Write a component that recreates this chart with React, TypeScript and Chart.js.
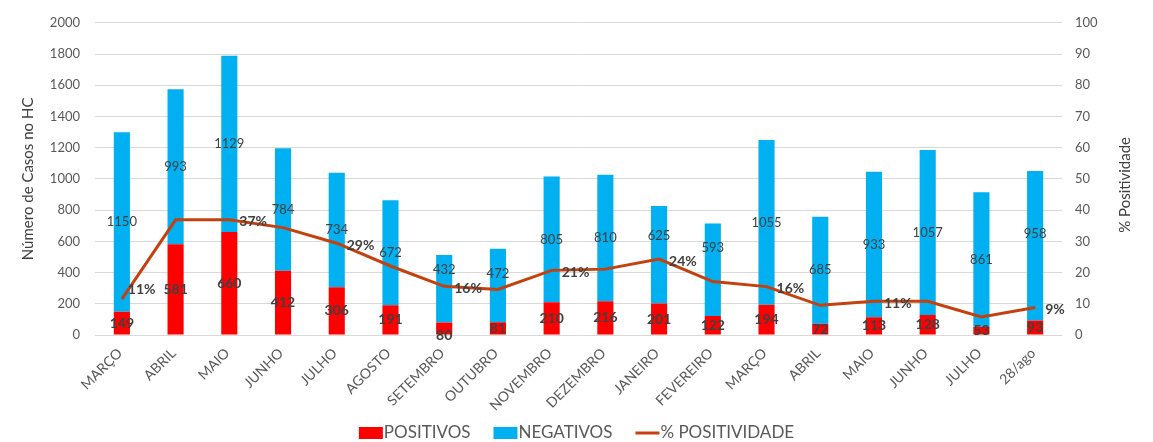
import React, { useEffect, useRef } from "react";
import { Chart, registerables } from "chart.js";

Chart.register(...registerables);

const categories = [
  "MARÇO", "ABRIL", "MAIO", "JUNHO", "JULHO", "AGOSTO", "SETEMBRO", "OUTUBRO",
  "NOVEMBRO", "DEZEMBRO", "JANEIRO", "FEVEREIRO", "MARÇO", "ABRIL", "MAIO",
  "JUNHO", "JULHO", "28/ago",
];
const positivos = [149, 581, 660, 412, 306, 191, 80, 81, 210, 216, 201, 122, 194, 72, 113, 128, 53, 93];
const negativos = [1150, 993, 1129, 784, 734, 672, 432, 472, 805, 810, 625, 593, 1055, 685, 933, 1057, 861, 958];
const positividade = [11.5, 36.9, 36.9, 34.4, 29.4, 22.1, 15.6, 14.6, 20.7, 21.1, 24.3, 17.1, 15.5, 9.5, 10.8, 10.8, 5.8, 8.8];
const positividadeLabels = ["11%", "", "37%", "", "29%", "", "16%", "", "21%", "", "24%", "", "16%", "", "11%", "", "", "9%"];
const leftTitle = "Número de Casos no HC";
const rightTitle = "% Positividade";

const FONT = "Lato, 'Open Sans', sans-serif";
const TICK_COLOR = "#595959";
const LABEL_COLOR = "#404040";
const RED = "#FF0000";
const BLUE = "#00B0F0";
const LINE = "#C4410F";

// label nudges (pixels) copied from the manually moved labels of the original
const negShift: Record<number, number> = { 6: -19, 7: -12, 10: -19, 11: -22, 17: -12 };
const posShift: Record<number, number> = { 6: 7 };

export default function App() {
  const canvasRef = useRef<HTMLCanvasElement | null>(null);

  useEffect(() => {
    document.body.style.margin = "0";
    const canvas = canvasRef.current;
    if (!canvas) return;

    const labelsPlugin = {
      id: "valueLabels",
      afterDatasetsDraw(chart: any) {
        const ctx = chart.ctx;
        ctx.save();
        // bar labels
        [0, 1].forEach((di) => {
          const meta = chart.getDatasetMeta(di);
          const values = di === 0 ? positivos : negativos;
          const shift = di === 0 ? posShift : negShift;
          ctx.font = di === 0 ? `bold 14px ${FONT}` : `13px ${FONT}`;
          ctx.fillStyle = LABEL_COLOR;
          ctx.textAlign = "center";
          ctx.textBaseline = "middle";
          meta.data.forEach((el: any, i: number) => {
            const cy = (el.y + el.base) / 2 + (shift[i] || 0);
            ctx.fillText(String(values[i]), el.x, cy);
          });
        });
        // line labels
        const lm = chart.getDatasetMeta(2);
        ctx.font = `bold 14px ${FONT}`;
        ctx.fillStyle = LABEL_COLOR;
        ctx.textAlign = "left";
        ctx.textBaseline = "middle";
        lm.data.forEach((el: any, i: number) => {
          const t = positividadeLabels[i];
          if (!t) return;
          const dy = i === 0 ? -10 : 2;
          const dx = i === 0 ? 6 : 10;
          ctx.fillText(t, el.x + dx, el.y + dy);
        });
        ctx.restore();

        // right axis title (reads bottom-to-top)
        const area = chart.chartArea;
        ctx.save();
        ctx.font = `15px ${FONT}`;
        ctx.fillStyle = LABEL_COLOR;
        ctx.textAlign = "center";
        ctx.textBaseline = "middle";
        ctx.translate(1125, (area.top + area.bottom) / 2 + 6);
        ctx.rotate(-Math.PI / 2);
        ctx.fillText(rightTitle, 0, 0);
        ctx.restore();

        // legend
        ctx.save();
        ctx.font = `17px ${FONT}`;
        ctx.textBaseline = "middle";
        ctx.textAlign = "left";
        const items = chart.data.datasets.map((ds: any, i: number) => ({
          text: ds.label,
          color: i === 2 ? ds.borderColor : ds.backgroundColor,
          line: i === 2,
        }));
        const symW = 24;
        const symGap = 1;
        const itemGap = 23;
        const widths = items.map((it: any) => symW + symGap + ctx.measureText(it.text).width);
        const total = widths.reduce((a: number, b: number) => a + b, 0) + itemGap * (items.length - 1);
        let x = chart.width / 2 - total / 2;
        const cy = 433;
        items.forEach((it: any, i: number) => {
          if (it.line) {
            ctx.strokeStyle = it.color;
            ctx.lineWidth = 3;
            ctx.beginPath();
            ctx.moveTo(x, cy);
            ctx.lineTo(x + symW, cy);
            ctx.stroke();
          } else {
            ctx.fillStyle = it.color;
            ctx.fillRect(x, cy - 6, symW, 12);
          }
          ctx.fillStyle = TICK_COLOR;
          ctx.fillText(it.text, x + symW + symGap, cy);
          x += widths[i] + itemGap;
        });
        ctx.restore();
      },
    };

    const chart = new Chart(canvas, {
      type: "bar",
      data: {
        labels: categories,
        datasets: [
          {
            label: "POSITIVOS",
            data: positivos,
            backgroundColor: RED,
            borderWidth: 0,
            yAxisID: "y",
            stack: "s",
            order: 1,
            barPercentage: 0.3,
            categoryPercentage: 1,
          },
          {
            label: "NEGATIVOS",
            data: negativos,
            backgroundColor: BLUE,
            borderWidth: 0,
            yAxisID: "y",
            stack: "s",
            order: 1,
            barPercentage: 0.3,
            categoryPercentage: 1,
          },
          {
            type: "line",
            label: "% POSITIVIDADE",
            data: positividade,
            borderColor: LINE,
            backgroundColor: LINE,
            borderWidth: 3,
            pointRadius: 0,
            tension: 0,
            yAxisID: "y1",
            order: 0,
          } as any,
        ],
      },
      options: {
        responsive: false,
        animation: false,
        maintainAspectRatio: false,
        layout: { padding: { left: 0, right: 0, top: 5, bottom: 0 } },
        plugins: {
          tooltip: { enabled: false },
          legend: { display: false },
        },
        scales: {
          x: {
            stacked: true,
            grid: { display: false, drawTicks: false },
            border: { display: false },
            ticks: {
              color: TICK_COLOR,
              font: { family: FONT, size: 14 },
              maxRotation: 45,
              minRotation: 45,
              padding: 10,
              labelOffset: -2,
              autoSkip: false,
            },
            afterFit(scale: any) {
              scale.height = 107;
            },
          },
          y: {
            stacked: true,
            position: "left",
            min: 0,
            max: 2000,
            grid: { color: "#D9D9D9", lineWidth: 1, drawTicks: false },
            border: { display: false },
            ticks: {
              stepSize: 200,
              color: TICK_COLOR,
              font: { family: FONT, size: 13 },
              padding: 15,
              callback: (v: any) => String(v),
            },
            title: {
              display: true,
              text: leftTitle,
              color: LABEL_COLOR,
              font: { family: FONT, size: 15 },
              padding: { top: 19, bottom: 0 },
            },
            afterFit(scale: any) {
              scale.width = 95;
            },
          },
          y1: {
            position: "right",
            min: 0,
            max: 100,
            grid: { display: false, drawTicks: false },
            border: { display: false },
            ticks: {
              stepSize: 10,
              color: TICK_COLOR,
              font: { family: FONT, size: 13 },
              padding: 13,
              callback: (v: any) => String(v),
            },
            afterFit(scale: any) {
              scale.width = 91;
            },
          },
        },
      },
      plugins: [labelsPlugin],
    });

    return () => chart.destroy();
  }, []);

  return (
    <div style={{ width: 1153, height: 442 }}>
      <canvas ref={canvasRef} width={1153} height={442} style={{ display: "block" }} />
    </div>
  );
}
